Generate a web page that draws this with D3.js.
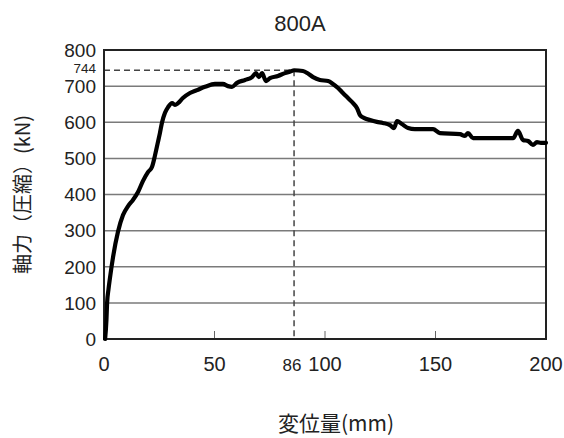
<!DOCTYPE html>
<html>
<head>
<meta charset="utf-8">
<script src="https://cdn.jsdelivr.net/npm/d3@7"></script>
<style>
  html, body { margin: 0; padding: 0; background: #fff; }
  svg { display: block; }
</style>
</head>
<body>
<script>
// Load–displacement curve for specimen 800A
const title = "800A";
const xLabel = "変位量(mm)";
const yLabel = "軸力（圧縮）(kN)";

const displacement = [
  0.5, 1.1, 1.4, 2.0, 2.7, 4.1, 6.3, 8.6, 10.9, 13.1, 15.4, 17.6, 19.9, 21.7, 23.1, 24.4,
  25.3, 26.2, 27.6, 29.0, 30.8, 32.1, 33.5, 35.7, 38.9, 42.1, 45.7, 50.2, 53.8, 56.1, 57.9,
  60.2, 63.8, 67.0, 68.8, 70.1, 71.5, 73.3, 75.1, 78.7, 81.9, 84.6, 86.0, 90.0, 92.3, 94.6,
  97.7, 101.4, 103.6, 105.9, 108.1, 110.4, 112.7, 114.5, 115.8, 117.6, 120.4, 123.5, 126.2,
  129.4, 131.2, 132.6, 134.8, 137.6, 140.7, 148.9, 152.0, 161.1, 163.3, 164.7, 167.0, 185.1,
  187.3, 189.6, 191.9, 194.1, 195.9, 197.7, 200.0
];
const axialForce = [
  0, 53, 100, 136, 169, 227, 296, 343, 368, 385, 407, 437, 462, 476, 509, 545,
  570, 598, 626, 642, 653, 648, 653, 667, 681, 689, 698, 706, 706, 700, 698,
  709, 717, 725, 736, 725, 736, 714, 722, 728, 736, 741, 744, 742, 735, 725,
  717, 714, 706, 695, 681, 667, 653, 639, 620, 612, 606, 601, 598,
  592, 584, 603, 595, 584, 581, 581, 570, 567, 562, 570, 556, 556,
  576, 551, 548, 537, 545, 543, 543
];

const peakX = 86;
const peakY = 744;

const yTicks = [0, 100, 200, 300, 400, 500, 600, 700, 800];
const yGrid = [100, 200, 300, 400, 500, 600, 700];
const xTicks = [0, 50, 100, 150, 200];
const xInnerTicks = [50, 100, 150];

const W = 564, H = 438;
const m = { left: 104, right: 18, top: 50, bottom: 99 };

const svg = d3.select("body").append("svg")
  .attr("width", W).attr("height", H);

const x = d3.scaleLinear().domain([0, 200]).range([m.left, W - m.right]);
const y = d3.scaleLinear().domain([0, 800]).range([H - m.bottom, m.top]);

const numFont = "'Liberation Sans', Arial, sans-serif";
const cjkFont = "'Noto Sans CJK JP', 'Noto Sans', sans-serif";

// horizontal grid
svg.append("g").selectAll("line").data(yGrid).join("line")
  .attr("x1", x(0)).attr("x2", x(200))
  .attr("y1", d => y(d)).attr("y2", d => y(d))
  .attr("stroke", "#7a7a7a").attr("stroke-width", 1.5);

// short inner ticks on the bottom axis
svg.append("g").selectAll("line").data(xInnerTicks).join("line")
  .attr("x1", d => x(d)).attr("x2", d => x(d))
  .attr("y1", y(0)).attr("y2", y(0) - 8)
  .attr("stroke", "#666").attr("stroke-width", 1);

// peak reference lines
svg.append("line")
  .attr("x1", x(0)).attr("x2", x(peakX))
  .attr("y1", y(peakY)).attr("y2", y(peakY))
  .attr("stroke", "#444").attr("stroke-width", 1.5)
  .attr("stroke-dasharray", "6,4");
svg.append("line")
  .attr("x1", x(peakX)).attr("x2", x(peakX))
  .attr("y1", y(peakY)).attr("y2", y(0))
  .attr("stroke", "#444").attr("stroke-width", 1.5)
  .attr("stroke-dasharray", "6,4");

// frame
svg.append("rect")
  .attr("x", x(0)).attr("y", y(800))
  .attr("width", x(200) - x(0)).attr("height", y(0) - y(800))
  .attr("fill", "none").attr("stroke", "#222").attr("stroke-width", 2);

// curve
const pts = displacement.map((d, i) => [d, axialForce[i]]);
svg.append("path")
  .datum(pts)
  .attr("d", d3.line().x(d => x(d[0])).y(d => y(d[1])).curve(d3.curveMonotoneX))
  .attr("fill", "none").attr("stroke", "#000")
  .attr("stroke-width", 4.2).attr("stroke-linejoin", "round").attr("stroke-linecap", "round");

// y tick labels
svg.append("g").selectAll("text").data(yTicks).join("text")
  .attr("x", x(0) - 8).attr("y", d => y(d))
  .attr("dy", "0.36em")
  .attr("text-anchor", "end")
  .attr("font-family", numFont).attr("font-size", 19).attr("fill", "#222")
  .text(d => d);
// peak value label, fitted between the 800 and 700 labels
svg.append("text")
  .attr("x", x(0) - 8).attr("y", y(peakY) + 3.2)
  .attr("text-anchor", "end")
  .attr("font-family", numFont).attr("font-size", 13.5).attr("fill", "#222")
  .text(peakY);

// x tick labels
svg.append("g").selectAll("text").data(xTicks).join("text")
  .attr("x", d => x(d)).attr("y", y(0) + 32)
  .attr("text-anchor", "middle")
  .attr("font-family", numFont).attr("font-size", 20).attr("fill", "#222")
  .text(d => d);
svg.append("text")
  .attr("x", x(peakX) - 2).attr("y", y(0) + 32)
  .attr("text-anchor", "middle")
  .attr("font-family", numFont).attr("font-size", 17).attr("fill", "#222")
  .text(peakX);

// title
svg.append("text")
  .attr("x", 300).attr("y", 31)
  .attr("text-anchor", "middle")
  .attr("font-family", numFont).attr("font-size", 22).attr("fill", "#222")
  .text(title);

// axis titles
svg.append("text")
  .attr("x", 336).attr("y", 431)
  .attr("text-anchor", "middle")
  .attr("font-family", cjkFont).attr("font-size", 21).attr("fill", "#222")
  .text(xLabel);
svg.append("text")
  .attr("transform", `translate(30, ${(y(0) + y(800)) / 2}) rotate(-90)`)
  .attr("text-anchor", "middle")
  .attr("font-family", cjkFont).attr("font-size", 20).attr("fill", "#222")
  .text(yLabel);
</script>
</body>
</html>
